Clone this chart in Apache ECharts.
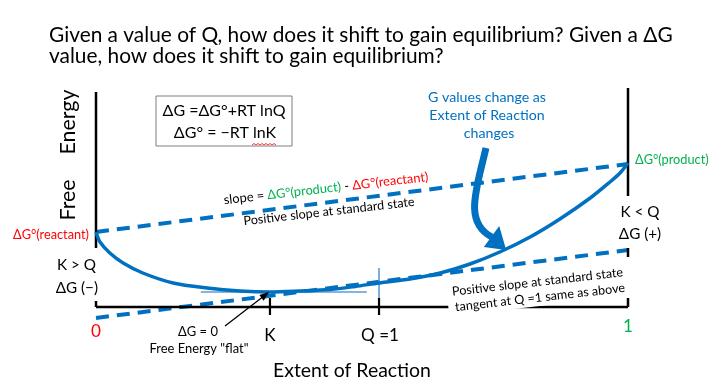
<!DOCTYPE html>
<html><head><meta charset="utf-8">
<script src="https://cdn.jsdelivr.net/npm/echarts@6/dist/echarts.min.js"></script>
<style>html,body{margin:0;padding:0;background:#fff}#c{width:720px;height:392px}</style>
</head><body><div id="c"></div>
<script>
// ---- data ----
const extent     = [0, 0.0075, 0.026, 0.051, 0.088, 0.145, 0.209, 0.271, 0.327, 0.383, 0.440, 0.487, 0.532, 0.590, 0.647, 0.703, 0.759, 0.816, 0.872, 0.929, 0.966, 0.985, 1.0];
const freeEnergy = [75, 65, 54, 44, 34, 24, 19, 16, 15, 16, 17.5, 20.5, 24, 28, 34, 43, 55, 70, 88, 109, 125, 134, 144];
const standardSlopeLine = [75, 143];   // G at extent 0 and 1
const tangentLine = [-11, 57];         // parallel line tangent at Q = 1
const tickPositions = [0, 0.327, 0.532, 1];
const tickLabels = ['0', 'K', 'Q =1', '1'];
const tickColors = ['#FF0000', '#000000', '#000000', '#00B050'];
const titleLines = ['Given a value of Q, how does it shift to gain equilibrium? Given a \u0394G', 'value, how does it shift to gain equilibrium?'];

const BLUE = '#0070C0', LBLUE = '#5B9BD5', GREEN = '#00B050', RED = '#FF0000';
const FONT = 'Lato';
const ctx = document.createElement('canvas').getContext('2d');
function fit(text, width) { ctx.font = '100px ' + FONT; return 100 * width / ctx.measureText(text).width; }

const chart = echarts.init(document.getElementById('c'));
function seg(a, b, color, width, type) {
  return { type: 'line', data: [a, b], symbol: 'none', silent: true, z: 3,
    lineStyle: { color: color, width: width, type: type || 'solid', cap: 'butt' } };
}
const series = [
  { type: 'line', data: extent.map((x, i) => [x, freeEnergy[i]]), smooth: 0.3, symbol: 'none', z: 4,
    lineStyle: { color: BLUE, width: 3.5 } },
  seg([0, standardSlopeLine[0]], [1, standardSlopeLine[1]], BLUE, 4, [13, 8]),
  seg([0, tangentLine[0]], [1, tangentLine[1]], BLUE, 4, [13, 8]),
  // frame
  seg([0, 215], [0, 59], '#000', 2.5),
  seg([0, 6], [0, 0], '#000', 2.5),
  seg([0, 0], [1, 0], '#000', 2.5),
  seg([1, 219], [1, 111], '#000', 2.5),
  seg([1, 59], [1, 50], '#000', 2.5),
  seg([1, 9], [1, 0], '#000', 2.5),
  seg([tickPositions[1], 9], [tickPositions[1], -8], '#000', 2.2),
  seg([tickPositions[2], 9], [tickPositions[2], -8], '#000', 2.2),
  // light blue guides
  seg([tickPositions[2], 39], [tickPositions[2], 9], LBLUE, 1.6),
  seg([0.197, 15], [0.509, 15], LBLUE, 1.6)
];
chart.setOption({
  animation: false,
  grid: { left: 96, right: 92, top: 77, bottom: 45 },
  xAxis: { type: 'value', min: 0, max: 1, show: false },
  yAxis: { type: 'value', min: -40, max: 230, show: false },
  series: series
});

const px = (x, y) => chart.convertToPixel({ gridIndex: 0 }, [x, y]);
const ANG = 6.5 * Math.PI / 180;
function txt(text, x, y, size, color, align, rot, extra) {
  return { type: 'text', x: x, y: y, rotation: rot || 0, z: 100,
    style: Object.assign({ text: text, fill: color, fontSize: size, fontFamily: FONT,
      align: align || 'center', textAlign: align || 'center', verticalAlign: 'middle', textVerticalAlign: 'middle' }, extra || {}) };
}
const g = [];
const tSize = fit(titleLines[0], 624);
g.push(txt(titleLines[0], 49, 35, tSize, '#000', 'left'));
g.push(txt(titleLines[1], 49, 56, tSize, '#000', 'left'));
const eSize = fit('Energy', 65);
g.push(txt('Energy', 68, 122, eSize, '#000', 'center', Math.PI / 2));
g.push(txt('Free', 68, 200, eSize, '#000', 'center', Math.PI / 2));
// formula box
g.push({ type: 'rect', z: 100, shape: { x: 156, y: 96, width: 136, height: 50 }, style: { fill: '#fff', stroke: '#7F7F7F', lineWidth: 1 } });
const fSize = fit('\u0394G =\u0394G\u00B0+RT lnQ', 123);
g.push(txt('\u0394G =\u0394G\u00B0+RT lnQ', 224, 111, fSize, '#000'));
g.push(txt('\u0394G\u00B0 = \u2212RT lnK', 225, 133, fSize, '#000'));
g.push({ type: 'polyline', z: 101, shape: { points: [[252,145],[254,143.5],[256,145],[258,143.5],[260,145],[262,143.5],[264,145],[266,143.5],[268,145],[270,143.5],[272,145],[274,143.5],[276,145]] }, style: { stroke: RED, lineWidth: 0.8, fill: null } });
// left labels
const sSize = fit('\u0394G\u00B0(reactant)', 76);
const r0 = px(0, standardSlopeLine[0]);
g.push(txt('\u0394G\u00B0(reactant)', r0[0] - 7, r0[1] + 3, sSize, RED, 'right'));
const kSize = fit('K > Q', 39);
g.push(txt('K > Q', 96, 265, kSize, '#000', 'right'));
g.push(txt('\u0394G (\u2212)', 98, 288, kSize, '#000', 'right'));
// right labels
const p1 = px(1, standardSlopeLine[1]);
g.push(txt('\u0394G\u00B0(product)', p1[0] + 7, p1[1] - 4, sSize, GREEN, 'left'));
g.push(txt('K < Q', 640, 212, kSize, '#000'));
g.push(txt('\u0394G (+)', 640, 234, kSize, '#000'));
// tick labels
const tickDy = [24, 28, 28, 19];
const tkSize = fit('Q =1', 38);
tickPositions.forEach((t, i) => {
  const p = px(t, 0);
  g.push(txt(tickLabels[i], p[0] + (i === 2 ? 1 : 0), p[1] + tickDy[i], tkSize, tickColors[i]));
});
g.push(txt('Extent of Reaction', 352, 371, fit('Extent of Reaction', 158), '#000'));
const smSize = fit('Free Energy "flat"', 99);
g.push(txt('\u0394G = 0', 198, 332, smSize, '#000'));
g.push(txt('Free Energy "flat"', 199, 349, smSize, '#000'));
// blue note
const bSize = fit('G values change as', 118);
g.push(txt('G values change as', 487, 97, bSize, BLUE));
g.push(txt('Extent of Reaction', 487, 115, bSize, BLUE));
g.push(txt('changes', 489, 133, bSize, BLUE));
// rotated slope texts
const slSize = fit('slope = \u0394G\u00B0(product) - \u0394G\u00B0(reactant)', 206);
const rs = (c) => ({ fill: c, color: c, fontSize: slSize, fontFamily: FONT });
g.push({ type: 'text', x: 326, y: 188.5, rotation: ANG, z: 100,
  style: { text: '{k|slope = }{g|\u0394G\u00B0(product)}{k| - }{r|\u0394G\u00B0(reactant)}',
    rich: { k: rs('#000'), g: rs(GREEN), r: rs(RED) },
    align: 'center', textAlign: 'center', verticalAlign: 'middle', textVerticalAlign: 'middle' } });
const psSize = fit('Positive slope at standard state', 172);
g.push(txt('Positive slope at standard state', 329, 211.5, psSize, '#000', 'center', ANG));
g.push({ type: 'rect', z: 99, x: 539, y: 290, rotation: ANG,
  shape: { x: -92, y: -18, width: 184, height: 34 }, style: { fill: '#fff' } });
g.push(txt('Positive slope at standard state', 537.5, 282, psSize, '#000', 'center', ANG));
g.push(txt('tangent at Q =1 same as above', 540, 297.5, psSize, '#000', 'center', ANG));
// thick curved arrow
const a0 = px(0.733, 159), a1 = px(0.716, 119), a2 = px(0.690, 85), a3 = px(0.744, 70);
g.push({ type: 'bezierCurve', z: 100, shape: { x1: a0[0], y1: a0[1], cpx1: a1[0], cpy1: a1[1], cpx2: a2[0], cpy2: a2[1], x2: a3[0], y2: a3[1] },
  style: { stroke: BLUE, lineWidth: 7, fill: null } });
const h0 = px(0.771, 57), h1 = px(0.758, 81), h2 = px(0.729, 60);
g.push({ type: 'polygon', z: 100, shape: { points: [h0, h1, h2] }, style: { fill: BLUE } });
// small black arrow
const b0 = px(0.2425, -19), b1 = px(0.323, 14);
g.push({ type: 'line', z: 100, shape: { x1: b0[0], y1: b0[1], x2: b1[0], y2: b1[1] }, style: { stroke: '#000', lineWidth: 1.3 } });
const dx = b1[0] - b0[0], dy = b1[1] - b0[1], L = Math.hypot(dx, dy), ux = dx / L, uy = dy / L;
g.push({ type: 'polygon', z: 100, shape: { points: [[b1[0] + ux * 1.5, b1[1] + uy * 1.5], [b1[0] - ux * 8 - uy * 3.5, b1[1] - uy * 8 + ux * 3.5], [b1[0] - ux * 8 + uy * 3.5, b1[1] - uy * 8 - ux * 3.5]] }, style: { fill: '#000' } });
chart.setOption({ graphic: { elements: g } });
</script>
</body></html>
